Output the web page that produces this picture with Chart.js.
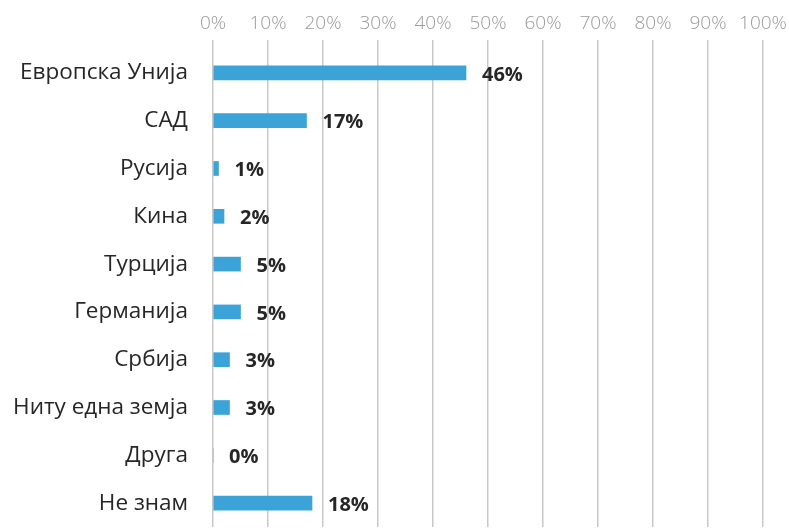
<!DOCTYPE html>
<html>
<head>
<meta charset="utf-8">
<script src="https://cdn.jsdelivr.net/npm/chart.js@4/dist/chart.umd.min.js"></script>
<style>
  html,body{margin:0;padding:0;background:#fff;overflow:hidden;}
  #c{display:block;}
</style>
</head>
<body>
<canvas id="c" width="789" height="530"></canvas>
<script>
// ---------- Datos ----------
const categorias = ['Европска Унија','САД','Русија','Кина','Турција','Германија','Србија','Ниту една земја','Друга','Не знам'];
const valores    = [46, 17, 1, 2, 5, 5, 3, 3, 0, 18];
const ticksX     = [0, 10, 20, 30, 40, 50, 60, 70, 80, 90, 100];

// ---------- Etiquetas de valor al final de cada barra ----------
const etiquetas = {
  id:'etiquetas',
  afterDatasetsDraw(chart){
    const ctx = chart.ctx, meta = chart.getDatasetMeta(0);
    ctx.save();
    ctx.font = 'bold 20px "Open Sans"';
    ctx.fillStyle = '#262626';
    ctx.textBaseline = 'middle';
    meta.data.forEach((bar,i)=>{
      ctx.fillText(valores[i] + '%', bar.x + 16, bar.y + 2);
    });
    ctx.restore();
  }
};

new Chart(document.getElementById('c'), {
  type:'bar',
  data:{
    labels:categorias,
    datasets:[{data:valores, backgroundColor:'#3ba3d7', barThickness:14, borderWidth:0}]
  },
  options:{
    indexAxis:'y',
    responsive:false, animation:false,
    layout:{padding:{top:0, right:26, bottom:3, left:0}},
    plugins:{legend:{display:false}, tooltip:{enabled:false}},
    scales:{
      x:{
        position:'top', min:0, max:100,
        afterBuildTicks:s=>{ s.ticks = ticksX.map(v=>({value:v})); },
        afterFit:s=>{ s.height = 49; s.paddingLeft = 0; s.paddingRight = 0; },
        grid:{color:'#c8c8c8', lineWidth:1.5, tickLength:9},
        border:{display:false},
        ticks:{color:'#9a9a9a', font:{family:'Open Sans', size:19, weight:300}, padding:5, maxRotation:0, callback:v=>v+'%'}
      },
      y:{
        afterFit:s=>{ s.width = 213; s.paddingTop = 0; s.paddingBottom = 0; },
        grid:{display:false},
        border:{display:false},
        ticks:{color:'#262626', font:{family:'Open Sans', size:22.5}, padding:17}
      }
    }
  },
  plugins:[etiquetas]
});
</script>
</body>
</html>
